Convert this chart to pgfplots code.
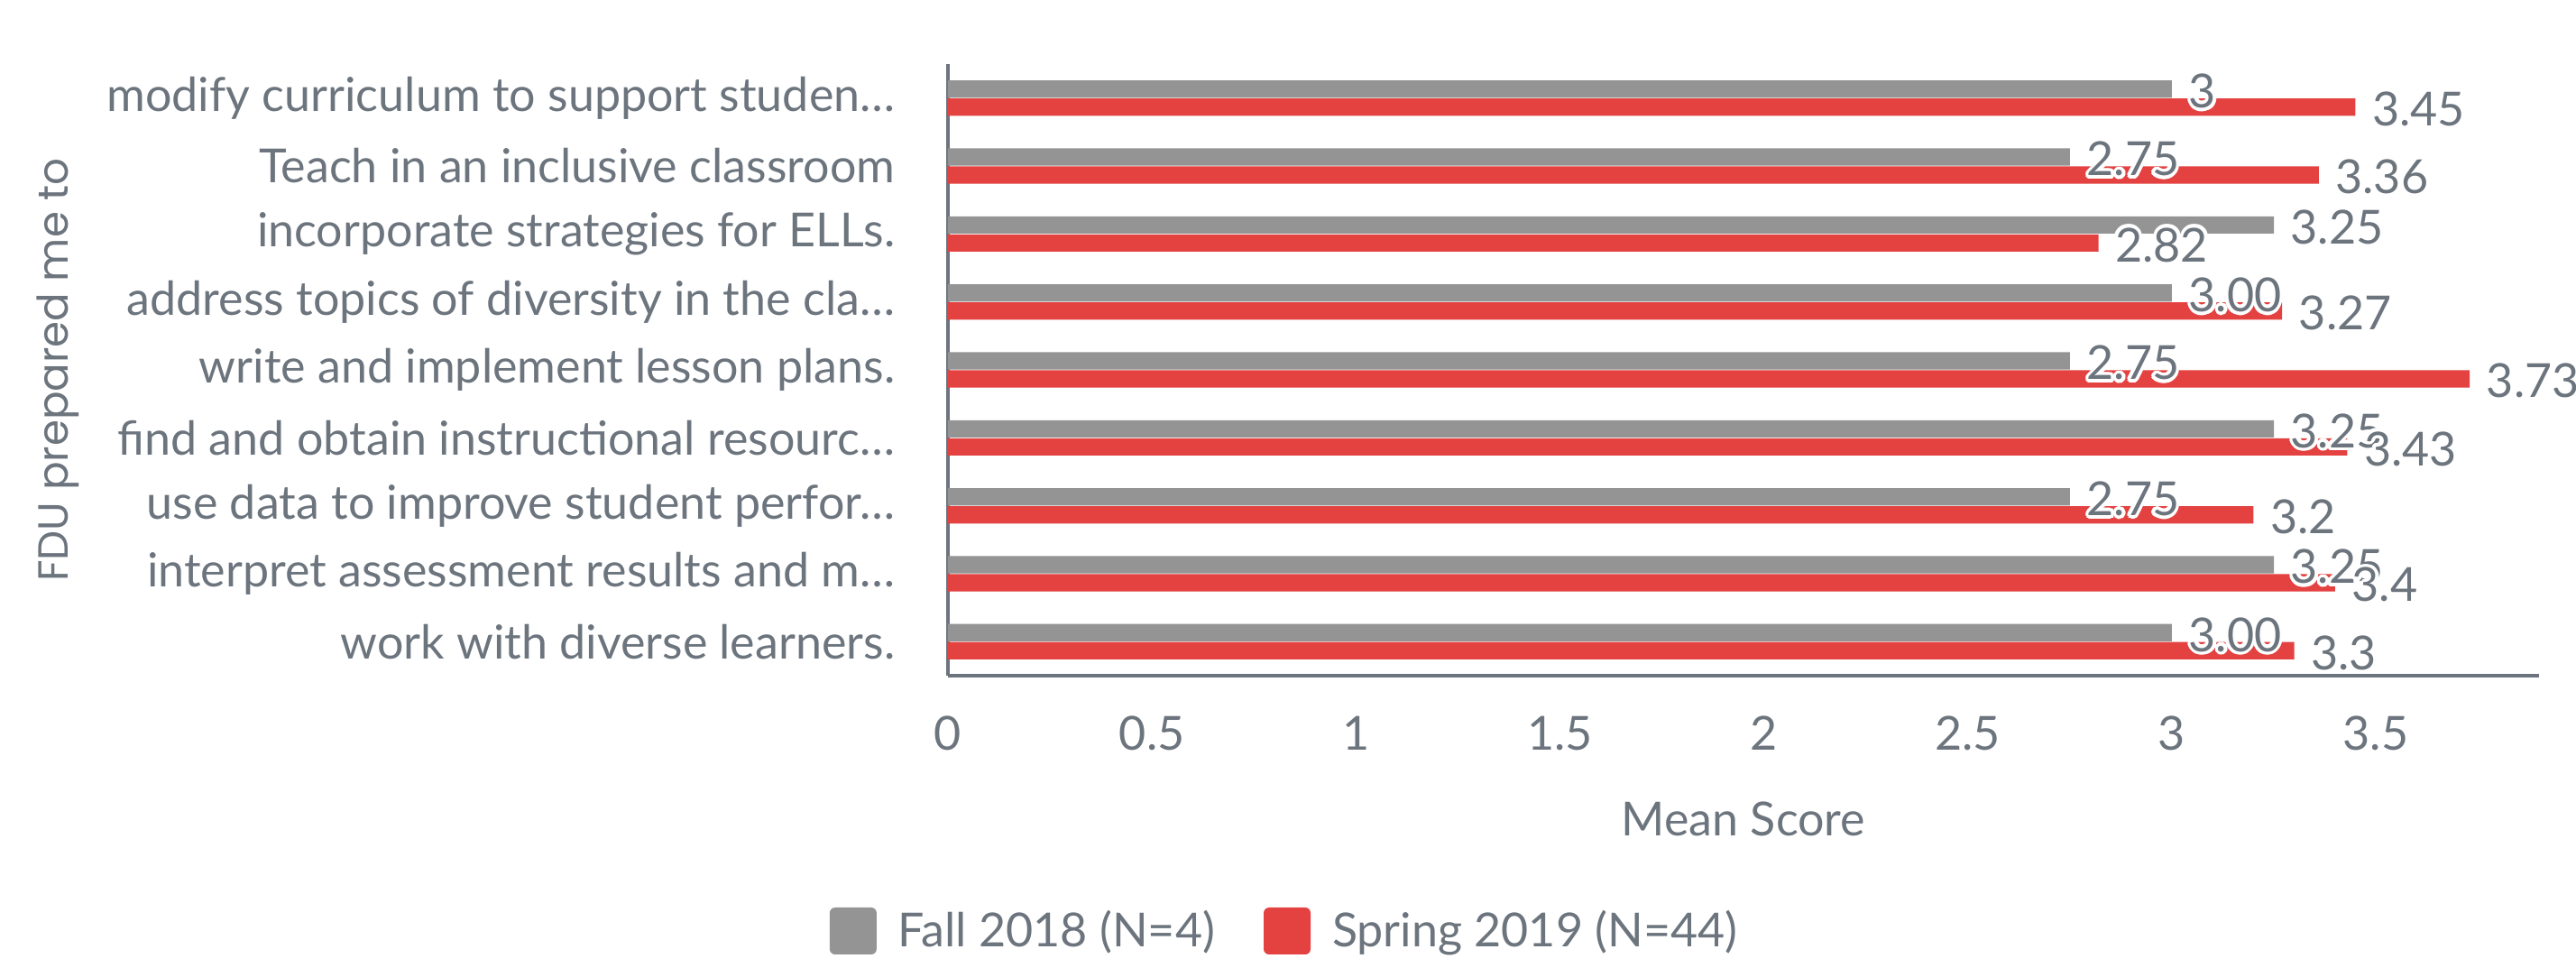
\documentclass[border=0pt]{standalone}
\usepackage{fontspec}
\setmainfont{Lato}
\newfontfamily\ylabfont{Poppins}
\usepackage{pgfplots}
\pgfplotsset{compat=1.18}
\usepackage{pgfplotstable}
\usepackage{contour}
\contourlength{0.9pt}
\definecolor{txt}{RGB}{108,116,125}
\definecolor{bargray}{RGB}{148,148,148}
\definecolor{barred}{RGB}{228,65,65}

\pgfplotstableread{
y fall falllab spring springlab
8 3.00 3    3.45 3.45
7 2.75 2.75 3.36 3.36
6 3.25 3.25 2.82 2.82
5 3.00 3.00 3.27 3.27
4 2.75 2.75 3.73 3.73
3 3.25 3.25 3.43 3.43
2 2.75 2.75 3.20 3.2
1 3.25 3.25 3.40 3.4
0 3.00 3.00 3.30 3.3
}\data

\begin{document}
\begin{tikzpicture}[font=\fontsize{13}{15.6}\selectfont, text=txt]
\useasboundingbox (-262.75pt,-83.25pt) rectangle (451.25pt,187.25pt);
\clip (-262.75pt,-83.25pt) rectangle (451.25pt,187.25pt);
\begin{axis}[
  at={(0,0)}, anchor=south west, scale only axis,
  width=441pt, height=169.5pt,
  xbar, bar width=4.8pt,
  xmin=0, xmax=3.9, ymin=-0.5, ymax=8.5,
  axis x line*=bottom, axis y line*=left,
  axis line style={draw=txt, line width=0.9pt, -},
  major tick length=0pt,
  xtick={0,0.5,...,3.5},
  ytick={0,1,2,3,4,5,6,7,8},
  yticklabels={work with diverse learners.,
    interpret assessment results and m…,
    use data to improve student perfor…,
    find and obtain instructional resourc…,
    write and implement lesson plans.,
    address topics of diversity in the cla…,
    incorporate strategies for ELLs.,
    Teach in an inclusive classroom,
    modify curriculum to support studen…},
  /pgf/number format/assume math mode=true,
  xticklabel style={inner sep=0pt, anchor=north, yshift=-11pt, text=txt},
  yticklabel style={inner sep=0pt, anchor=east, xshift=-14.5pt, text=txt},
  xlabel={Mean Score},
  xlabel style={at={(axis description cs:0.5,-0.2345)}, anchor=center, inner sep=0pt, text=txt},
  ylabel={\ylabfont\fontsize{11.7}{14}\selectfont FDU prepared me to},
  ylabel style={at={(axis description cs:-0.5595,0.5)}, anchor=center, inner sep=0pt, text=txt},
  nodes near coords={\contour{white}{\pgfplotspointmeta}},
  point meta=explicit symbolic,
  every node near coord/.append style={anchor=west, inner sep=0pt, xshift=4.5pt, yshift=-1pt, text=txt},
  legend style={draw=none, fill=none, at={(0.2110,-0.4174)}, anchor=center,
    legend columns=2,
    /tikz/every odd column/.append style={column sep=6pt},
    /tikz/every even column/.append style={column sep=13.5pt},
    nodes={inner sep=0pt, text=txt}},
  legend cell align=left,
]
\addplot[fill=bargray, draw=none, bar shift=2.5pt,
  legend image code/.code={\fill[bargray, rounded corners=1.5pt] (0pt,-6.5pt) rectangle (13pt,6.5pt);}]
  table[x=fall, y=y, meta=falllab]{\data};
\addlegendentry{Fall 2018 (N=4)}
\addplot[fill=barred, draw=none, bar shift=-2.5pt,
  legend image code/.code={\fill[barred, rounded corners=1.5pt] (0pt,-6.5pt) rectangle (13pt,6.5pt);}]
  table[x=spring, y=y, meta=springlab]{\data};
\addlegendentry{Spring 2019 (N=44)}
\end{axis}
\end{tikzpicture}
\end{document}
